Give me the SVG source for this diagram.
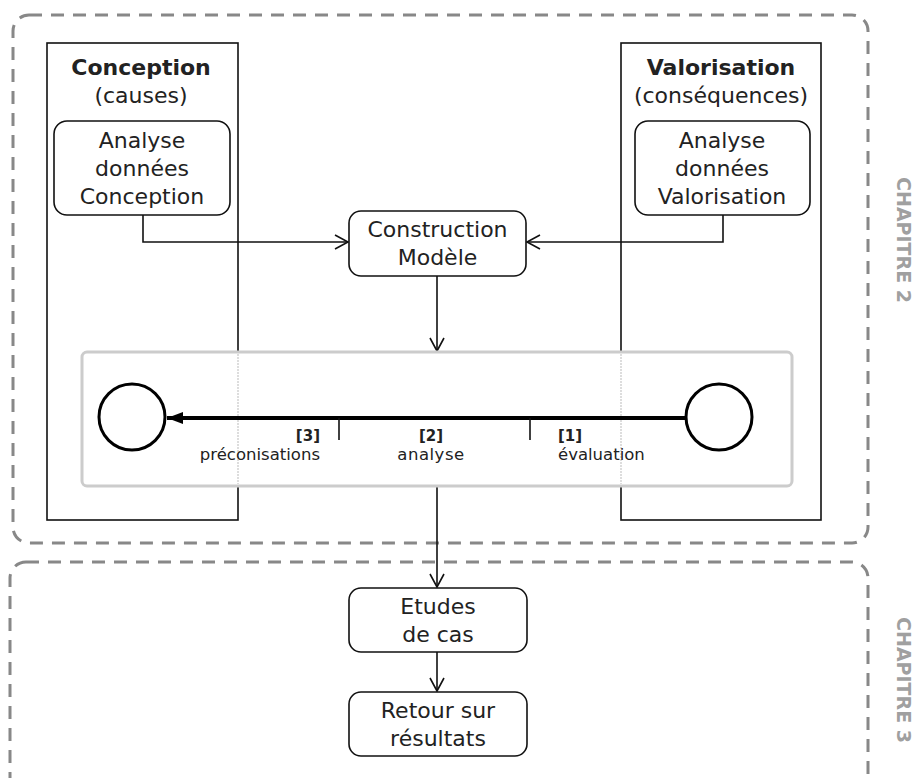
<svg xmlns="http://www.w3.org/2000/svg" width="915" height="778" viewBox="0 0 915 778">
<defs>
<style>
text{font-family:"DejaVu Sans","Verdana",sans-serif;fill:#222;}
.t{font-size:22px;text-anchor:middle;}
.b{font-weight:bold;}
.s{font-size:16.5px;}
.sb{font-size:15px;font-weight:bold;}
.ch{font-size:19px;font-weight:bold;fill:#a0a0a0;text-anchor:middle;}
.dash{fill:none;stroke:#888;stroke-width:3;stroke-dasharray:13 9;}
.col{fill:none;stroke:#111;stroke-width:1.6;}
.node{fill:#fff;stroke:#111;stroke-width:1.6;}
.conn{fill:none;stroke:#111;stroke-width:1.6;}
</style>
<marker id="open" markerWidth="16" markerHeight="16" refX="14" refY="8" orient="auto" markerUnits="userSpaceOnUse">
<path d="M1,1 L14,8 L1,15" fill="none" stroke="#111" stroke-width="1.6"/>
</marker>
<marker id="fill" markerWidth="18" markerHeight="14" refX="16" refY="7" orient="auto" markerUnits="userSpaceOnUse">
<path d="M0,1 L16,7 L0,13 Z" fill="#000"/>
</marker>
</defs>

<g id="chapitre2">
<rect class="dash" x="13" y="15" width="855" height="528" rx="16"/>
<text class="ch" transform="translate(897,240) rotate(90)">CHAPITRE 2</text>
</g>
<g id="chapitre3">
<rect class="dash" x="10" y="562" width="858" height="240" rx="16"/>
<text class="ch" transform="translate(897,680) rotate(90)">CHAPITRE 3</text>
</g>

<g id="conception">
<rect class="col" x="47" y="43" width="191" height="477"/>
<text class="t b" x="141" y="75">Conception</text>
<text class="t" x="141" y="103">(causes)</text>
</g>
<g id="valorisation">
<rect class="col" x="621" y="43" width="200" height="477"/>
<text class="t b" x="721" y="75">Valorisation</text>
<text class="t" x="721" y="103">(conséquences)</text>
</g>

<g id="connectors">
<path class="conn" d="M143,215 V242 H348" marker-end="url(#open)"/>
<path class="conn" d="M723,215 V242 H527" marker-end="url(#open)"/>
<path class="conn" d="M437,276 V351" marker-end="url(#open)"/>
<path class="conn" d="M437,487 V587" marker-end="url(#open)"/>
<path class="conn" d="M437,652 V691" marker-end="url(#open)"/>
</g>

<g id="analyse-conception">
<rect class="node" x="54" y="121" width="176" height="94" rx="13"/>
<text class="t" x="142" y="148">Analyse</text>
<text class="t" x="142" y="176">données</text>
<text class="t" x="142" y="204">Conception</text>
</g>
<g id="analyse-valorisation">
<rect class="node" x="635" y="121" width="175" height="94" rx="13"/>
<text class="t" x="722" y="148">Analyse</text>
<text class="t" x="722" y="176">données</text>
<text class="t" x="722" y="204">Valorisation</text>
</g>
<g id="construction-modele">
<rect class="node" x="349" y="211" width="177" height="65" rx="12"/>
<text class="t" x="437.5" y="237">Construction</text>
<text class="t" x="437.5" y="265">Modèle</text>
</g>

<g id="modele">
<rect x="82" y="352" width="710" height="134" rx="5" fill="#fff" stroke="#ccc" stroke-width="3"/>
<line x1="238" y1="354" x2="238" y2="484" stroke="#bbb" stroke-width="1" stroke-dasharray="2 1"/>
<line x1="621" y1="354" x2="621" y2="484" stroke="#bbb" stroke-width="1" stroke-dasharray="2 1"/>
<circle cx="132" cy="417" r="33" fill="#fff" stroke="#000" stroke-width="3"/>
<circle cx="719" cy="417" r="33" fill="#fff" stroke="#000" stroke-width="3"/>
<line x1="686" y1="418" x2="167" y2="418" stroke="#000" stroke-width="4" marker-end="url(#fill)"/>
<line x1="339" y1="418" x2="339" y2="440" stroke="#111" stroke-width="1.6"/>
<line x1="530" y1="418" x2="530" y2="440" stroke="#111" stroke-width="1.6"/>
<text class="sb" x="320" y="441" text-anchor="end">[3]</text>
<text class="s" x="320" y="460" text-anchor="end">préconisations</text>
<text class="sb" x="431" y="441" text-anchor="middle">[2]</text>
<text class="s" x="431" y="460" text-anchor="middle" letter-spacing="0.5">analyse</text>
<text class="sb" x="558" y="441">[1]</text>
<text class="s" x="558" y="460">évaluation</text>
</g>

<g id="etudes-de-cas">
<rect class="node" x="349" y="588" width="178" height="64" rx="12"/>
<text class="t" x="438" y="614">Etudes</text>
<text class="t" x="438" y="642">de cas</text>
</g>
<g id="retour-resultats">
<rect class="node" x="349" y="692" width="178" height="64" rx="12"/>
<text class="t" x="438" y="718">Retour sur</text>
<text class="t" x="438" y="746">résultats</text>
</g>
</svg>
